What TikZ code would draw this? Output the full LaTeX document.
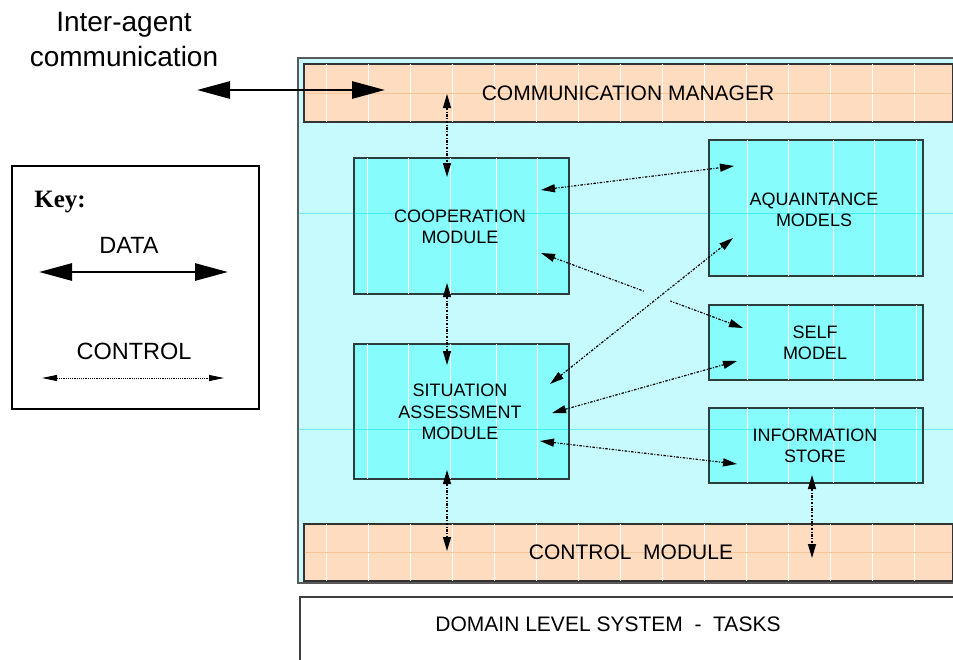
\documentclass[tikz,border=0pt]{standalone}
\usepackage{fontspec}
\setmainfont{Liberation Sans}
\newfontfamily\keyfont{Liberation Serif}
\usetikzlibrary{arrows.meta,calc}

\definecolor{panelfill}{RGB}{198,250,252}
\definecolor{boxfill}{RGB}{135,252,252}
\definecolor{bandfill}{RGB}{253,220,192}
\definecolor{edgedark}{RGB}{45,60,60}
\definecolor{gridcyan}{RGB}{70,235,240}
\definecolor{gridorange}{RGB}{248,195,150}

\newcommand\mytexture[4]{%
  \begin{scope}
    \clip ($(#1.north west)+(1.8,1.8)$) rectangle ($(#1.south east)+(-1.8,-1.8)$);
    \foreach \xx in {#2} {\draw[white, line width=1pt] (\xx,0) -- (\xx,700);}
    \foreach \yy in {#3} {\draw[#4, line width=0.8pt] (0,\yy) -- (960,\yy);}
  \end{scope}}

\begin{document}
\begin{tikzpicture}[x=1pt,y=-1pt,
  panel/.style={draw=black!65, line width=1.5pt, fill=panelfill, inner sep=0pt, anchor=north west},
  module/.style={draw=edgedark, line width=1.8pt, fill=boxfill, inner sep=0pt, anchor=north west},
  band/.style={draw=black!80, line width=1.8pt, fill=bandfill, inner sep=0pt, anchor=north west},
  lbl/.style={font=\fontsize{18}{21.5}\selectfont, align=center},
  bandlbl/.style={font=\fontsize{21}{25}\selectfont},
  datarrow/.style={line width=2.8pt, {Triangle[length=33pt,width=17pt]}-{Triangle[length=33pt,width=17pt]}},
  ctrlarrow/.style={line width=1.2pt, dash pattern=on 2.5pt off 1.5pt on 1pt off 1.5pt,
    {Triangle[length=14pt,width=8pt]}-{Triangle[length=14pt,width=8pt]}},
  keyctrl/.style={line width=0.9pt, dash pattern=on 1.2pt off 1pt,
    {Triangle[length=15pt,width=6pt]}-{Triangle[length=15pt,width=6pt]}},
]
\useasboundingbox (0,0) rectangle (953,659);
\clip (0,0) rectangle (953,659);

% top-left label
\node[font=\fontsize{28}{35}\selectfont, align=center] (ialbl) at (124,40) {Inter-agent\\communication};

% agent panel
\node[panel, minimum width=680pt, minimum height=525pt] (panel) at (297,57) {};
\mytexture{panel}{}{213,429}{gridcyan!70!panelfill}

% bands
\node[band, minimum width=649pt, minimum height=58pt] (comm) at (303,63) {};
\mytexture{comm}{326,368,...,920}{93}{gridorange}
\node[bandlbl] (commlbl) at (628,93) {COMMUNICATION MANAGER};
\node[band, minimum width=649pt, minimum height=57pt] (ctrl) at (303,523) {};
\mytexture{ctrl}{326,368,...,920}{552}{gridorange}
\node[bandlbl] (ctrllbl) at (631,552) {CONTROL\ \ MODULE};

% modules
\node[module, minimum width=215pt, minimum height=136pt] (coop) at (353,157) {};
\mytexture{coop}{367,408,450,496,537}{213}{gridcyan}
\node[lbl] (cooplbl) at (460,227) {COOPERATION\\MODULE};
\node[module, minimum width=215pt, minimum height=135pt] (sit) at (353,343) {};
\mytexture{sit}{367,408,450,496,537}{429}{gridcyan}
\node[lbl] (sitlbl) at (460,412) {SITUATION\\ASSESSMENT\\MODULE};
\node[module, minimum width=214pt, minimum height=136pt] (aqua) at (708,139) {};
\mytexture{aqua}{747,788,833,874,916}{213}{gridcyan}
\node[lbl] (aqualbl) at (814,210) {AQUAINTANCE\\MODELS};
\node[module, minimum width=214pt, minimum height=75pt] (self) at (708,304) {};
\mytexture{self}{747,788,833,874,916}{}{gridcyan}
\node[lbl] (selflbl) at (815,343) {SELF\\MODEL};
\node[module, minimum width=214pt, minimum height=75pt] (info) at (708,407) {};
\mytexture{info}{747,788,833,874,916}{429}{gridcyan}
\node[lbl] (infolbl) at (815,446) {INFORMATION\\STORE};

% domain level system
\node[draw=black!75, line width=1.5pt, fill=white, inner sep=0pt, anchor=north west,
      minimum width=700pt, minimum height=100pt] (domain) at (299,596) {};
\node[bandlbl] (domainlbl) at (608,624) {DOMAIN LEVEL SYSTEM\ \ -\ \ TASKS};

% key
\node[draw=black, line width=1.5pt, fill=white, inner sep=0pt, anchor=north west,
      minimum width=247pt, minimum height=243pt] (key) at (11,165) {};
\node[font=\keyfont\bfseries\fontsize{25}{30}\selectfont] (keylbl) at (60,202) {Key:};
\node[font=\fontsize{23.5}{28}\selectfont] (datalbl) at (129,245) {DATA};
\node[font=\fontsize{23.5}{28}\selectfont] (ctrllbl2) at (134,351) {CONTROL};
\coordinate (kda) at (39,272);
\coordinate (kdb) at (228,272);
\coordinate (kca) at (42,378);
\coordinate (kcb) at (224,378);
\draw[datarrow] (kda) -- (kdb);
\draw[keyctrl] (kca) -- (kcb);

% inter-agent data arrow
\coordinate (ia) at (197,90);
\coordinate (ib) at (385,90);
\draw[datarrow] (ia) -- (ib);

% control connectors
\coordinate (c1a) at (447,94);  \coordinate (c1b) at (447,177);
\coordinate (c2a) at (447,283); \coordinate (c2b) at (447,365);
\coordinate (c3a) at (447,470); \coordinate (c3b) at (447,551);
\coordinate (c4a) at (812,475); \coordinate (c4b) at (812,558);
\coordinate (d1a) at (541,190); \coordinate (d1b) at (734,166);
\coordinate (d2a) at (541,253); \coordinate (d2b) at (743,328);
\coordinate (d3a) at (550,384); \coordinate (d3b) at (733,238);
\coordinate (d4a) at (552,413); \coordinate (d4b) at (737,361);
\coordinate (d5a) at (540,441); \coordinate (d5b) at (737,464);

\draw[ctrlarrow] (c1a) -- (c1b);
\draw[ctrlarrow] (c2a) -- (c2b);
\draw[ctrlarrow] (c3a) -- (c3b);
\draw[ctrlarrow] (c4a) -- (c4b);
\draw[ctrlarrow] (d1a) -- (d1b);
\draw[ctrlarrow] (d2a) -- (d2b);
\draw[panelfill, line width=3pt] ($(d2a)!0.51!(d2b)$) -- ($(d2a)!0.64!(d2b)$);
\draw[ctrlarrow] (d3a) -- (d3b);
\draw[ctrlarrow] (d4a) -- (d4b);
\draw[ctrlarrow] (d5a) -- (d5b);
\end{tikzpicture}
\end{document}
